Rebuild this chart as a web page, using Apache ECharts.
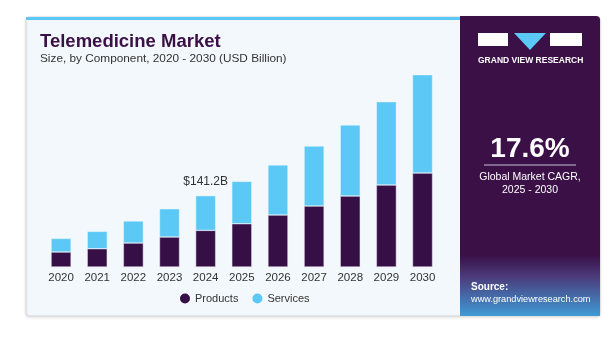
<!DOCTYPE html>
<html><head><meta charset="utf-8">
<script src="https://cdn.jsdelivr.net/npm/echarts@6/dist/echarts.min.js"></script>
<style>html,body{margin:0;padding:0;background:#fff}#c{width:615px;height:339px}</style>
</head><body><div id="c"></div>
<script>
var years = ['2020','2021','2022','2023','2024','2025','2026','2027','2028','2029','2030'];
var products = [29.7, 36.2, 47.5, 59.4, 72.5, 85.7, 103.0, 120.8, 140.6, 162.4, 186.1];
var services = [26.9, 34.3, 43.6, 56.0, 68.7, 83.8, 99.0, 118.8, 140.6, 164.9, 194.7];
var labelYear = '2024';
var labelText = '$141.2B';

var chart = echarts.init(document.getElementById('c'), null, {renderer:'canvas'});
var F = 'Liberation Sans, Arial, sans-serif';
var servicesData = services.map(function(v,i){
  if (years[i] === labelYear) {
    return {value:v, label:{show:true, position:'top', distance:8, formatter:labelText, color:'#333', fontSize:12, fontFamily:F}};
  }
  return v;
});
chart.setOption({
  animation:false,
  backgroundColor:'#ffffff',
  graphic:[
    {type:'rect', shape:{x:26,y:17,width:574,height:299,r:3}, style:{fill:'#f3f8fc', stroke:'#d6d9de', lineWidth:1, shadowBlur:3, shadowColor:'rgba(0,0,0,0.12)', shadowOffsetY:1}, z:-10},
    {type:'rect', shape:{x:26,y:17,width:440,height:3}, style:{fill:'#5bc8f5'}, z:-9},
    {type:'rect', shape:{x:460,y:16,width:140,height:300,r:[0,4,0,0]}, style:{fill:'#3a1047'}, z:-8},
    {type:'rect', shape:{x:460,y:255,width:140,height:61}, style:{fill:new echarts.graphic.LinearGradient(0,0,0,1,[{offset:0,color:'#3a1047'},{offset:0.35,color:'#4b3a7a'},{offset:1,color:'#3f9bd6'}])}, z:-7},
    {type:'rect', shape:{x:478,y:33,width:30,height:13}, style:{fill:'#ffffff'}},
    {type:'polygon', shape:{points:[[514,33],[546,33],[530,50]]}, style:{fill:'#5bc8f5'}},
    {type:'rect', shape:{x:550,y:33,width:32,height:13}, style:{fill:'#ffffff'}},
    {type:'text', left:478, top:56, style:{text:'GRAND VIEW RESEARCH', fill:'#ffffff', font:'bold 8.5px '+F}},
    {type:'text', x:530, y:149, style:{text:'17.6%', fill:'#ffffff', font:'bold 28px '+F, align:'center', verticalAlign:'middle'}},
    {type:'line', shape:{x1:484,y1:165,x2:576,y2:165}, style:{stroke:'#c9bfd3', lineWidth:1}},
    {type:'text', x:530, y:177, style:{text:'Global Market CAGR,', fill:'#ffffff', font:'10.5px '+F, align:'center', verticalAlign:'middle'}},
    {type:'text', x:530, y:190, style:{text:'2025 - 2030', fill:'#ffffff', font:'10.5px '+F, align:'center', verticalAlign:'middle'}},
    {type:'text', x:471, y:287, style:{text:'Source:', fill:'#ffffff', font:'bold 10px '+F, verticalAlign:'middle'}},
    {type:'text', x:471, y:299, style:{text:'www.grandviewresearch.com', fill:'#ffffff', font:'9.2px '+F, verticalAlign:'middle'}},
    {type:'text', x:40, y:42, style:{text:'Telemedicine Market', fill:'#3a1047', font:'bold 18.5px '+F, verticalAlign:'middle'}},
    {type:'text', x:40, y:59, style:{text:'Size, by Component, 2020 - 2030 (USD Billion)', fill:'#333333', font:'11.8px '+F, verticalAlign:'middle'}}
  ],
  legend:{
    data:['Products','Services'], left:175, top:288, itemWidth:10, itemHeight:10, itemGap:14, icon:'circle',
    itemStyle:{borderWidth:0},
    textStyle:{color:'#333', fontSize:11, fontFamily:F}
  },
  grid:{left:43, right:174.4, top:65, bottom:72, containLabel:false},
  xAxis:{type:'category', data:years, axisLine:{show:false}, axisTick:{show:false},
    axisLabel:{color:'#333', fontSize:11.5, fontFamily:F, margin:5}},
  yAxis:{type:'value', min:0, max:400, show:false, splitLine:{show:false}},
  series:[
    {name:'Products', type:'bar', stack:'a', data:products, barWidth:20, itemStyle:{color:'#360f47', borderColor:'#e8e4f0', borderWidth:0.5}},
    {name:'Services', type:'bar', stack:'a', data:servicesData, barWidth:20, itemStyle:{color:'#5bc8f5', borderColor:'#e8f6fd', borderWidth:0.5}}
  ]
});
</script></body></html>
